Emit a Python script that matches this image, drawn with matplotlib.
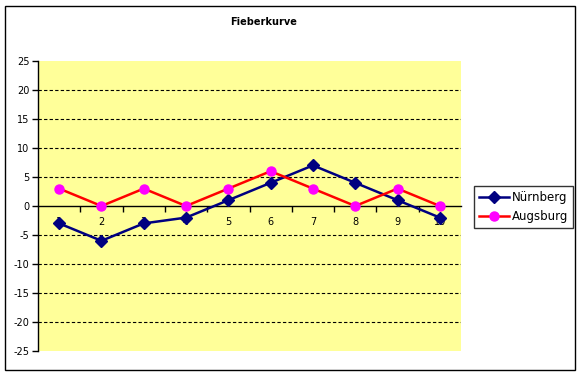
import matplotlib
matplotlib.use("Agg")
import matplotlib.pyplot as plt
from matplotlib.patches import Rectangle

plt.rcParams['axes.unicode_minus'] = False
plt.rcParams['font.family'] = ['DejaVu Sans']

categories = [1, 2, 3, 4, 5, 6, 7, 8, 9, 10]
nuernberg = [-3, -6, -3, -2, 1, 4, 7, 4, 1, -2]
augsburg = [3, 0, 3, 0, 3, 6, 3, 0, 3, 0]
yticks = [-25, -20, -15, -10, -5, 0, 5, 10, 15, 20, 25]
title = "Fieberkurve"

fig = plt.figure(figsize=(5.8, 3.76), dpi=100)
fig.patch.set_facecolor('white')
fig.patches.append(Rectangle((5/580, 6/376), 570/580, 364/376, transform=fig.transFigure,
                             fill=False, edgecolor='black', linewidth=1.0))

ax = fig.add_axes([38/580, 25/376, 423/580, 290/376])
ax.set_facecolor('#FFFF99')
ax.set_xlim(0.5, 10.5)
ax.set_ylim(-25, 25)

for y in yticks:
    if y not in (-25, 0, 25):
        ax.axhline(y, color='black', linestyle=(0, (3, 2)), linewidth=0.8, zorder=1)

ax.plot(categories, nuernberg, color='#000080', linewidth=1.8, marker='D', markersize=6.5,
        markerfacecolor='#000080', markeredgecolor='#000080', label='Nürnberg', zorder=4)
ax.plot(categories, augsburg, color='#FF0000', linewidth=1.8, marker='o', markersize=6.5,
        markerfacecolor='#FF00FF', markeredgecolor='#FF00FF', label='Augsburg', zorder=4)

ax.spines['top'].set_visible(False)
ax.spines['right'].set_visible(False)
ax.spines['bottom'].set_position(('data', 0))
ax.spines['bottom'].set_linewidth(1)
ax.spines['left'].set_linewidth(1)
ax.spines['bottom'].set_zorder(2)

ax.set_yticks(yticks)
ax.set_yticklabels([str(v) for v in yticks], fontsize=7)
ax.tick_params(axis='y', direction='out', length=4, width=1, pad=2)

ax.set_xticks([c + 0.5 for c in categories[:-1]])
ax.set_xticklabels([])
ax.tick_params(axis='x', which='major', direction='out', length=4, width=1)
ax.set_xticks(categories, minor=True)
ax.set_xticklabels([str(c) for c in categories], minor=True, fontsize=7)
ax.tick_params(axis='x', which='minor', length=0, pad=8)

fig.text(264/580, 1 - 22/376, title, ha='center', va='center', fontsize=7, fontweight='bold')

leg = fig.legend(loc='center left', bbox_to_anchor=(474/580, 1 - 207/376), frameon=True,
                 fancybox=False, edgecolor='black', fontsize=8.5, handlelength=2.6,
                 borderpad=0.4, labelspacing=0.5, handletextpad=0.2, borderaxespad=0)
leg.get_frame().set_linewidth(1)

fig.savefig('out.png', dpi=100)
